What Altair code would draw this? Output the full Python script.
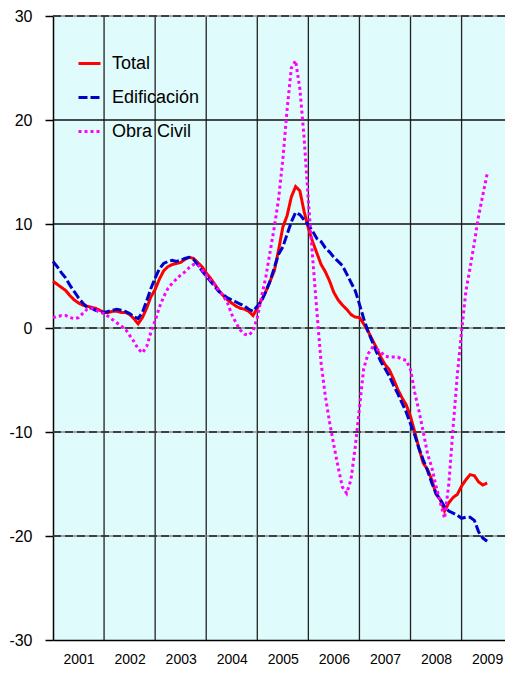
import altair as alt
import pandas as pd

# monthly index: 0 = Jan 2001 ... 102 = Jul 2009
months = list(range(103))

total = [4.5, 4.2, 3.9, 3.6, 3.1, 2.7, 2.4, 2.2, 2.1, 2.0, 1.9, 1.7,
         1.5, 1.5, 1.6, 1.6, 1.5, 1.5, 1.3, 0.9, 0.4, 1.0, 1.9, 3.0,
         3.7, 4.7, 5.5, 5.9, 6.1, 6.2, 6.3, 6.6, 6.8, 6.7, 6.3, 5.9,
         5.3, 4.8, 4.2, 3.6, 3.1, 2.7, 2.4, 2.1, 1.9, 1.8, 1.6, 1.2,
         1.9, 2.7, 3.5, 4.5, 5.5, 7.5, 9.7, 10.8, 12.6, 13.6, 13.2, 11.2,
         9.6, 8.3, 7.2, 6.1, 5.4, 4.5, 3.4, 2.7, 2.2, 1.8, 1.3, 1.05,
         1.0, 0.4, -0.3, -1.1, -1.9, -2.8, -3.5, -4.0, -4.9, -5.9, -6.7, -7.4,
         -8.5, -10.0, -11.6, -13.0, -13.6, -14.6, -16.0, -16.5, -17.6, -16.8, -16.3, -16.0,
         -15.2, -14.6, -14.1, -14.2, -14.8, -15.1, -14.9]

edificacion = [6.4, 5.9, 5.3, 4.8, 4.1, 3.5, 2.9, 2.4, 2.0, 1.9, 1.7, 1.6,
               1.5, 1.6, 1.7, 1.8, 1.7, 1.6, 1.4, 1.1, 0.9, 1.5, 2.6, 3.8,
               4.8, 5.7, 6.2, 6.4, 6.5, 6.4, 6.5, 6.7, 6.8, 6.6, 6.1, 5.5,
               5.0, 4.5, 4.0, 3.5, 3.2, 2.9, 2.7, 2.5, 2.3, 2.1, 1.8, 1.6,
               2.1, 2.6, 3.5, 4.5, 5.8, 7.1, 7.8, 9.0, 10.2, 11.1, 10.9, 10.4,
               9.9, 9.3, 8.6, 8.3, 7.7, 7.3, 6.8, 6.4, 6.0, 5.2, 4.4, 3.6,
               2.3, 0.9, -0.3, -1.3, -2.3, -3.2, -3.9, -4.6, -5.5, -6.3, -7.2, -8.1,
               -9.2, -10.3, -11.6, -12.7, -13.7, -14.9, -15.9, -16.5, -17.2, -17.6, -17.8, -18.0,
               -18.3, -18.2, -18.2, -18.5, -19.6, -20.2, -20.5]

obra_civil = [1.0, 1.1, 1.2, 1.2, 1.0, 0.9, 1.0, 1.4, 1.8, 1.9, 1.8, 1.5,
              1.4, 1.1, 0.8, 0.5, 0.2, -0.1, -0.7, -1.3, -2.0, -2.4, -1.8, -0.4,
              0.7, 2.0, 3.0, 3.8, 4.3, 4.7, 5.1, 5.4, 5.8, 6.1, 6.1, 5.6,
              5.1, 4.6, 4.2, 3.6, 3.1, 2.4, 1.3, 0.5, -0.2, -0.6, -0.7, -0.3,
              1.0, 3.0, 4.9, 7.3, 9.7, 12.4, 16.2, 21.0, 25.0, 25.7, 23.0, 18.3,
              12.2, 6.8, 1.6, -3.4, -6.6, -9.1, -11.3, -13.4, -15.3, -15.9, -14.6, -11.5,
              -7.7, -3.9, -2.5, -1.9, -2.0, -2.3, -2.7, -2.8, -2.8, -2.8, -3.0, -3.1,
              -4.0, -6.2, -8.0, -10.0, -12.1, -13.4, -15.2, -16.8, -18.3, -15.0, -9.6, -4.5,
              -0.3, 3.5, 5.8, 8.2, 10.8, 12.8, 14.8]

series_names = ["Total", "Edificación", "Obra Civil"]
series_colors = ["#FF0000", "#0000CC", "#FF00FF"]
year_labels = [2001, 2002, 2003, 2004, 2005, 2006, 2007, 2008, 2009]
year_lines = [2002, 2003, 2004, 2005, 2006, 2007, 2008, 2009]
y_ticks = [-30, -20, -10, 0, 10, 20, 30]
hgrid_solid = [10, 20]
hgrid_dashed = [30, 0, -10, -20]

rows = []
for name, vals in zip(series_names, [total, edificacion, obra_civil]):
    for m, v in zip(months, vals):
        rows.append({"serie": name, "t": 2001 + m / 12.0, "v": v})
df = pd.DataFrame(rows)

FONT = "Liberation Sans"
xscale = alt.Scale(domain=[2001, 2009.85], nice=False, zero=False)
yscale = alt.Scale(domain=[-30, 30], nice=False, zero=False)

xaxis = alt.Axis(
    values=[y + 0.5 for y in year_labels],
    labelExpr="'' + floor(datum.value)",
    ticks=False, grid=False, domainColor="black", domainWidth=1.5,
    labelFont=FONT, labelFontSize=14, labelColor="black",
    labelPadding=12, title=None)
yaxis = alt.Axis(
    values=y_ticks, labelExpr="'' + datum.value",
    tickSize=8, tickColor="black", tickWidth=1.5,
    domainColor="black", domainWidth=1.5, grid=False,
    labelFont=FONT, labelFontSize=16, labelColor="black",
    labelPadding=13, title=None)

vlines = alt.Chart(pd.DataFrame({"t": year_lines})).mark_rule(
    color="#222222", strokeWidth=1.3
).encode(x=alt.X("t:Q", scale=xscale, axis=xaxis))

hsolid = alt.Chart(pd.DataFrame({"v": hgrid_solid})).mark_rule(
    color="#111111", strokeWidth=1.3
).encode(y=alt.Y("v:Q", scale=yscale, axis=yaxis))

hdash_base = alt.Chart(pd.DataFrame({"v": hgrid_dashed})).mark_rule(
    color="#8a8a8a", strokeWidth=1.5
).encode(y=alt.Y("v:Q", scale=yscale, axis=yaxis))

hdash_top = alt.Chart(pd.DataFrame({"v": hgrid_dashed})).mark_rule(
    color="#222222", strokeWidth=1.5, strokeDash=[8, 4]
).encode(y=alt.Y("v:Q", scale=yscale, axis=yaxis))

leg = alt.Legend(
    title=None, orient="none", legendX=24, legendY=35,
    symbolType="stroke", symbolSize=484, symbolStrokeWidth=3,
    labelFont=FONT, labelFontSize=18, labelColor="black",
    labelOffset=10, rowPadding=12, padding=0,
)

lines = alt.Chart(df).mark_line(strokeWidth=3, strokeCap="butt").encode(
    x=alt.X("t:Q", scale=xscale, axis=xaxis),
    y=alt.Y("v:Q", scale=yscale, axis=yaxis),
    color=alt.Color("serie:N", scale=alt.Scale(domain=series_names, range=series_colors), legend=leg),
    strokeDash=alt.StrokeDash("serie:N", scale=alt.Scale(domain=series_names, range=[[1, 0], [9, 3], [3, 3]]), legend=leg),
)

chart = alt.layer(vlines, hsolid, hdash_base, hdash_top, lines).properties(
    width=452, height=624,
    padding={"left": 45, "top": 8, "right": 0, "bottom": 27},
    autosize=alt.AutoSizeParams(type="none"),
    background="white",
).configure_view(fill="#DFFBFB", stroke=None)

chart.save("out.html", embed_options={"renderer": "svg", "actions": False})
